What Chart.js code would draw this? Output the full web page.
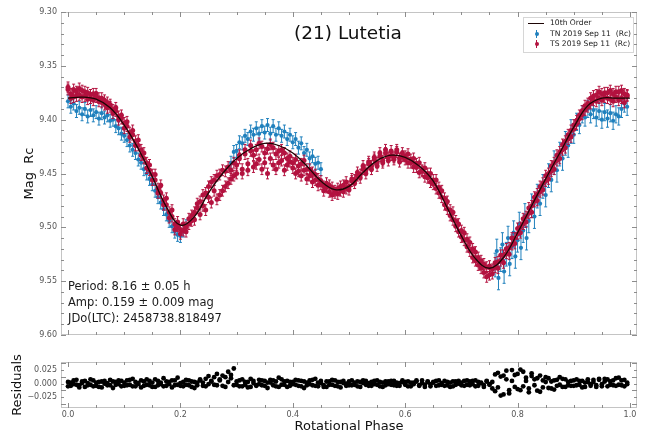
<!DOCTYPE html>
<html>
<head>
<meta charset="utf-8">
<script src="https://cdn.jsdelivr.net/npm/chart.js@4.4.1/dist/chart.umd.min.js"></script>
<style>
body{margin:0;background:#fff;font-family:"DejaVu Sans",sans-serif;}
#wrap{position:relative;width:645px;height:434px;overflow:hidden;background:#fff;}
#main{position:absolute;left:0;top:0;}
#resid{position:absolute;left:0;top:350px;}
.txt{position:absolute;white-space:nowrap;color:#1a1a1a;transform:translateY(-50%);}
#title{position:absolute;left:348px;top:32px;transform:translate(-50%,-50%);font-size:18.5px;color:#111;white-space:nowrap;}
.info{left:68px;font-size:11.5px;}
#legend{position:absolute;left:523px;top:17px;width:109px;height:34px;border:1px solid #d6d6d6;background:#fff;font-size:7.6px;color:#222;}
.row{position:absolute;left:0;width:109px;height:10px;line-height:10px;}
.row .lab{position:absolute;left:26px;top:0;white-space:nowrap;}
.ln{position:absolute;left:4px;top:5px;width:16px;height:1.3px;background:#1d0505;}
.bar{position:absolute;left:12px;top:1px;width:1px;height:8px;}
.dot{position:absolute;left:10.5px;top:3px;width:4px;height:4px;border-radius:2px;}
</style>
</head>
<body>
<div id="wrap">
<canvas id="main" width="645" height="345"></canvas>
<canvas id="resid" width="645" height="84"></canvas>
<div id="title">(21) Lutetia</div>
<div class="txt info" style="top:286px">Period: 8.16 ± 0.05 h</div>
<div class="txt info" style="top:302px">Amp: 0.159 ± 0.009 mag</div>
<div class="txt info" style="top:318px">JDo(LTC): 2458738.818497</div>
<div id="legend">
  <div class="row" style="top:0px"><div class="ln"></div><span class="lab">10th Order</span></div>
  <div class="row" style="top:10.5px"><div class="bar" style="background:#1f80bd"></div><div class="dot" style="background:#1f80bd"></div><span class="lab">TN 2019 Sep 11&nbsp; (Rc)</span></div>
  <div class="row" style="top:21px"><div class="bar" style="background:#b3123f"></div><div class="dot" style="background:#b3123f"></div><span class="lab">TS 2019 Sep 11&nbsp; (Rc)</span></div>
</div>
</div>
<script>
// 10th order fit (phase, mag)
var fitPhase = [0.000,0.025,0.050,0.075,0.100,0.125,0.150,0.175,0.200,0.225,
  0.250,0.275,0.300,0.325,0.350,0.375,0.400,0.425,0.450,0.475,
  0.500,0.525,0.550,0.575,0.600,0.625,0.650,0.675,0.700,0.725,
  0.750,0.775,0.800,0.825,0.850,0.875,0.900,0.925,0.950,0.975,1.000];
var fitMag = [9.380,9.379,9.381,9.389,9.405,9.427,9.453,9.481,9.498,9.490,
  9.468,9.450,9.436,9.427,9.422,9.424,9.431,9.443,9.457,9.465,
  9.462,9.449,9.438,9.433,9.435,9.443,9.457,9.482,9.508,9.529,
  9.538,9.528,9.505,9.480,9.455,9.431,9.407,9.387,9.380,9.380,9.380];

// phases shared by TS points and residuals
var phaseGrid = [
  0.000,0.005,0.010,0.015,0.020,0.025,0.030,0.035,0.040,0.045,0.050,0.055,0.060,0.065,0.070,0.075,0.080,0.085,0.090,0.095,
  0.100,0.105,0.110,0.115,0.120,0.125,0.130,0.135,0.140,0.145,0.150,0.155,0.160,0.165,0.170,0.175,0.180,0.185,0.190,0.195,
  0.200,0.205,0.210,0.215,0.220,0.225,0.230,0.235,0.240,0.245,0.250,0.255,0.260,0.265,0.270,0.275,0.280,0.285,0.290,0.295,
  0.300,0.305,0.310,0.315,0.320,0.325,0.330,0.335,0.340,0.345,0.350,0.355,0.360,0.365,0.370,0.375,0.380,0.385,0.390,0.395,
  0.400,0.405,0.410,0.415,0.420,0.425,0.430,0.435,0.440,0.445,0.450,0.455,0.460,0.465,0.470,0.475,0.480,0.485,0.490,0.495,
  0.500,0.505,0.510,0.515,0.520,0.525,0.530,0.535,0.540,0.545,0.550,0.555,0.560,0.565,0.570,0.575,0.580,0.585,0.590,0.595,
  0.600,0.605,0.610,0.615,0.620,0.625,0.630,0.635,0.640,0.645,0.650,0.655,0.660,0.665,0.670,0.675,0.680,0.685,0.690,0.695,
  0.700,0.705,0.710,0.715,0.720,0.725,0.730,0.735,0.740,0.745,0.750,0.755,0.760,0.765,0.770,0.775,0.780,0.785,0.790,0.795,
  0.800,0.805,0.810,0.815,0.820,0.825,0.830,0.835,0.840,0.845,0.850,0.855,0.860,0.865,0.870,0.875,0.880,0.885,0.890,0.895,
  0.900,0.905,0.910,0.915,0.920,0.925,0.930,0.935,0.940,0.945,0.950,0.955,0.960,0.965,0.970,0.975,0.980,0.985,0.990,0.995];

// TS 2019 Sep 11 (Rc), two samples per grid phase
var tsMag = [
  9.372,9.376,9.379,9.374,9.377,9.373,9.378,9.375,9.380,9.376,9.379,9.383,9.380,9.386,9.384,9.388,9.391,9.392,9.397,9.399,
  9.403,9.406,9.412,9.414,9.420,9.424,9.428,9.436,9.440,9.447,9.451,9.456,9.464,9.468,9.475,9.479,9.486,9.490,9.497,9.499,
  9.502,9.497,9.500,9.492,9.494,9.486,9.482,9.476,9.480,9.468,9.472,9.458,9.466,9.452,9.470,9.447,9.462,9.444,9.455,9.440,
  9.450,9.436,9.446,9.432,9.441,9.429,9.444,9.428,9.437,9.425,9.440,9.427,9.436,9.426,9.446,9.429,9.438,9.431,9.442,9.434,
  9.445,9.437,9.448,9.441,9.447,9.446,9.452,9.449,9.456,9.455,9.460,9.462,9.459,9.467,9.463,9.468,9.464,9.466,9.461,9.464,
  9.462,9.457,9.456,9.452,9.451,9.446,9.447,9.441,9.443,9.437,9.440,9.434,9.438,9.431,9.435,9.429,9.435,9.430,9.436,9.431,
  9.437,9.432,9.440,9.436,9.444,9.440,9.448,9.445,9.454,9.450,9.460,9.456,9.468,9.466,9.479,9.476,9.489,9.486,9.499,9.497,
  9.509,9.505,9.518,9.514,9.528,9.523,9.535,9.531,9.542,9.537,9.544,9.539,9.537,9.532,9.531,9.526,9.524,9.519,9.516,9.510,
  9.506,9.500,9.497,9.490,9.487,9.480,9.476,9.469,9.467,9.459,9.457,9.450,9.448,9.440,9.438,9.430,9.428,9.420,9.418,9.410,
  9.405,9.401,9.396,9.392,9.387,9.385,9.380,9.382,9.377,9.380,9.376,9.379,9.375,9.381,9.376,9.379,9.374,9.380,9.376,9.378];
var tsMag2 = [
  9.370,9.380,9.372,9.378,9.371,9.379,9.374,9.381,9.377,9.382,9.376,9.380,9.384,9.382,9.389,9.386,9.394,9.389,9.400,9.396,
  9.408,9.402,9.416,9.410,9.424,9.419,9.433,9.431,9.445,9.442,9.456,9.451,9.468,9.461,9.479,9.473,9.491,9.484,9.502,9.495,
  9.506,9.503,9.504,9.497,9.489,9.493,9.478,9.488,9.470,9.484,9.462,9.477,9.456,9.474,9.451,9.466,9.448,9.459,9.447,9.452,
  9.442,9.433,9.450,9.428,9.447,9.424,9.433,9.441,9.422,9.446,9.431,9.450,9.423,9.442,9.432,9.440,9.428,9.447,9.436,9.439,
  9.440,9.450,9.443,9.452,9.438,9.455,9.446,9.458,9.451,9.461,9.457,9.466,9.463,9.461,9.470,9.466,9.469,9.462,9.467,9.458,
  9.465,9.455,9.459,9.449,9.454,9.443,9.450,9.439,9.446,9.435,9.443,9.431,9.440,9.428,9.438,9.433,9.437,9.428,9.439,9.434,
  9.434,9.440,9.437,9.444,9.441,9.449,9.447,9.453,9.450,9.458,9.456,9.464,9.463,9.472,9.473,9.483,9.484,9.493,9.494,9.504,
  9.503,9.512,9.511,9.522,9.520,9.531,9.528,9.538,9.534,9.546,9.536,9.543,9.533,9.538,9.526,9.533,9.520,9.525,9.510,9.515,
  9.501,9.505,9.492,9.495,9.482,9.486,9.472,9.475,9.462,9.465,9.452,9.455,9.443,9.446,9.433,9.436,9.423,9.426,9.414,9.416,
  9.409,9.404,9.399,9.395,9.391,9.388,9.385,9.378,9.383,9.374,9.382,9.375,9.380,9.373,9.383,9.374,9.382,9.373,9.384,9.377];
var tsErr = 0.005;

// TN 2019 Sep 11 (Rc)
var tnPhase = [
  0.000,0.005,0.010,0.015,0.020,0.025,0.030,0.035,0.040,0.045,0.050,0.055,0.060,0.065,0.070,0.075,0.080,0.085,0.090,0.095,
  0.100,0.105,0.110,0.115,0.120,0.125,0.130,0.135,0.140,0.145,0.150,0.155,0.160,0.165,0.170,0.175,0.180,0.185,0.190,0.195,
  0.200,0.205,0.210,
  0.290,0.295,0.300,0.305,0.310,0.315,0.320,0.325,0.330,0.335,0.340,0.345,0.350,0.355,0.360,0.365,0.370,0.375,0.380,0.385,
  0.390,0.395,0.400,0.405,0.410,0.415,0.420,0.425,0.430,0.435,0.440,0.445,0.450,
  0.760,0.763,0.766,0.770,0.773,0.776,0.780,0.783,0.786,0.790,0.793,0.796,0.800,0.803,0.806,0.810,0.813,0.816,0.820,
  0.825,0.830,0.835,0.840,0.845,0.850,0.855,0.860,0.865,0.870,0.875,0.880,0.885,0.890,0.895,
  0.900,0.905,0.910,0.915,0.920,0.925,0.930,0.935,0.940,0.945,0.950,0.955,0.960,0.965,0.970,0.975,0.980,0.985,0.990,0.995];
var tnMag = [
  9.383,9.388,9.385,9.392,9.389,9.395,9.390,9.397,9.391,9.396,9.393,9.399,9.394,9.398,9.396,9.401,9.400,9.406,9.408,9.413,
  9.415,9.419,9.424,9.428,9.431,9.437,9.440,9.446,9.450,9.455,9.460,9.466,9.472,9.477,9.483,9.488,9.494,9.499,9.504,9.507,
  9.508,9.503,9.499,
  9.440,9.430,9.429,9.421,9.422,9.415,9.418,9.411,9.414,9.408,9.413,9.406,9.412,9.405,9.413,9.406,9.414,9.408,9.415,9.411,
  9.418,9.414,9.421,9.418,9.426,9.422,9.431,9.428,9.436,9.434,9.441,9.440,9.446,
  9.535,9.522,9.547,9.530,9.516,9.541,9.525,9.510,9.534,9.518,9.505,9.527,9.512,9.497,9.519,9.503,9.489,9.510,9.494,
  9.480,9.490,9.471,9.478,9.462,9.470,9.452,9.456,9.440,9.447,9.432,9.436,9.422,9.424,9.411,
  9.414,9.402,9.405,9.395,9.398,9.390,9.395,9.391,9.398,9.392,9.400,9.393,9.399,9.394,9.401,9.395,9.397,9.390,9.385,9.388];
var tnErr = [
  0.006,0.006,0.006,0.006,0.006,0.006,0.006,0.006,0.006,0.006,0.006,0.006,0.006,0.006,0.006,0.006,0.006,0.006,0.006,0.006,
  0.006,0.006,0.006,0.006,0.006,0.006,0.006,0.006,0.006,0.006,0.006,0.006,0.006,0.006,0.006,0.006,0.006,0.006,0.006,0.006,
  0.006,0.006,0.006,
  0.006,0.006,0.006,0.006,0.006,0.006,0.006,0.006,0.006,0.006,0.006,0.006,0.006,0.006,0.006,0.006,0.006,0.006,0.006,0.006,
  0.006,0.006,0.006,0.006,0.006,0.006,0.006,0.006,0.006,0.006,0.006,0.006,0.006,
  0.011,0.011,0.011,0.011,0.011,0.011,0.011,0.011,0.011,0.011,0.011,0.011,0.011,0.011,0.011,0.011,0.011,0.011,0.011,
  0.011,0.011,0.011,0.011,0.011,0.011,0.011,0.011,0.011,0.011,0.011,0.011,0.011,0.011,0.011,
  0.008,0.008,0.008,0.008,0.008,0.008,0.008,0.008,0.008,0.008,0.008,0.008,0.008,0.008,0.008,0.008,0.008,0.008,0.008,0.008];

// residuals in mmag, two samples per grid phase
var residA = [
  3,-4,6,-2,-7,1,5,-3,8,-5,2,-6,4,0,-3,7,-8,3,-1,5,
  -4,6,-2,9,-5,1,-7,4,8,-3,2,-6,5,-1,10,-4,3,-7,6,-2,
  1,-5,7,-3,4,-8,2,6,-4,9,-1,5,12,-3,8,15,-6,22,10,28,
  -2,6,-5,3,-7,9,1,-4,7,-3,5,-8,2,6,-5,11,-2,4,-6,3,
  -1,7,-4,5,-8,2,6,-3,9,-5,1,-6,4,-2,7,-4,3,-7,5,0,
  -3,6,-2,4,-6,1,5,-4,3,-1,6,-5,2,-3,4,-2,5,-4,1,3,
  -2,4,-5,2,6,-3,1,-6,4,-1,3,-4,6,-2,5,-3,2,-5,4,0,
  -3,5,-2,4,-1,6,-4,2,-3,5,-1,3,-14,20,-22,15,8,-18,25,-6,
  18,-12,22,5,-9,14,-3,10,-15,6,12,-8,4,-11,7,-2,9,-6,3,-4,
  6,-3,5,-7,2,8,-4,3,-6,7,-1,9,-5,4,-3,10,-2,6,-5,2];
var residB = [
  -5,2,-1,7,-3,4,-6,1,-2,6,-4,3,-7,5,1,-3,4,-2,6,-5,
  2,-3,7,-5,3,-1,6,-4,-2,5,-6,8,-3,2,-5,4,-1,6,-3,11,
  -4,3,-2,6,-6,3,-3,8,2,-5,14,4,-2,18,6,-4,12,3,16,-3,
  4,-5,8,-2,3,-6,5,-3,-1,6,-4,2,7,-3,4,-6,8,-2,5,-4,
  3,-2,6,-5,4,-3,-1,7,-4,2,5,-3,-6,4,-2,6,-5,3,1,-4,
  4,-3,2,-5,3,6,-2,1,-4,5,-2,3,-6,4,-1,5,-3,2,-4,6,
  3,-5,2,-1,4,-4,6,-2,3,-5,2,5,-3,1,-4,3,-6,4,-2,5,
  2,-4,6,-3,5,-5,3,1,-6,4,-2,-9,17,-7,13,-20,24,-12,5,16,
  -10,26,-5,11,-16,19,8,-13,15,-7,3,10,-9,6,-4,12,-6,8,-3,5,
  -4,8,-2,5,-6,3,-1,7,-3,9,-5,4,8,-2,6,-4,11,-3,7,-1];

var xTicks = [0, 0.2, 0.4, 0.6, 0.8, 1.0];
var residTicks = [-0.025, 0, 0.025];

Chart.defaults.font.family = '"DejaVu Sans", sans-serif';
Chart.defaults.animation = false;

var blue = '#1f80bd';
var red = '#b3123f';

// error bars drawn under each dataset's markers
var errorBars = {
  id: 'errorBars',
  beforeDatasetDraw: function(chart, args) {
    var ds = chart.data.datasets[args.index];
    if (!ds.errors) return;
    var y = chart.scales.y, ctx = chart.ctx;
    ctx.save();
    ctx.strokeStyle = ds.borderColor;
    ctx.lineWidth = 1;
    ctx.beginPath();
    args.meta.data.forEach(function(pt, i) {
      var d = ds.data[i];
      var e = Array.isArray(ds.errors) ? ds.errors[i] : ds.errors;
      var y1 = y.getPixelForValue(d.y - e), y2 = y.getPixelForValue(d.y + e);
      ctx.moveTo(pt.x, y1); ctx.lineTo(pt.x, y2);
      ctx.moveTo(pt.x - 1.5, y1); ctx.lineTo(pt.x + 1.5, y1);
      ctx.moveTo(pt.x - 1.5, y2); ctx.lineTo(pt.x + 1.5, y2);
    });
    ctx.stroke();
    ctx.restore();
  }
};

// grey frame and inward ticks on all four sides, like matplotlib
var frameTicks = {
  id: 'frameTicks',
  afterDraw: function(chart, args, opts) {
    var ctx = chart.ctx, a = chart.chartArea;
    var xs = chart.scales.x, ys = chart.scales.y;
    ctx.save();
    ctx.strokeStyle = '#c4c4c4';
    ctx.lineWidth = 1;
    ctx.strokeRect(a.left + 0.5, a.top + 0.5, a.right - a.left - 1, a.bottom - a.top - 1);
    ctx.strokeStyle = '#8c8c8c';
    function seg(x1, y1, x2, y2) { ctx.beginPath(); ctx.moveTo(x1, y1); ctx.lineTo(x2, y2); ctx.stroke(); }
    for (var i = 0; i <= 20; i++) {
      var v = i * 0.05;
      var px = Math.round(xs.getPixelForValue(v)) + 0.5;
      var len = (i % 4 === 0) ? 5 : 3;
      seg(px, a.top, px, a.top + len);
      seg(px, a.bottom, px, a.bottom - len);
    }
    var n = Math.round((opts.yTo - opts.yFrom) / opts.yStep);
    for (var j = 0; j <= n; j++) {
      var val = opts.yFrom + j * opts.yStep;
      var py = Math.round(ys.getPixelForValue(val)) + 0.5;
      var major = (j % opts.yEvery === 0);
      var l = major ? 5 : 3;
      seg(a.left, py, a.left + l, py);
      seg(a.right, py, a.right - l, py);
    }
    ctx.restore();
  }
};

var tickFont = { size: 8 };
var tickColor = '#555';

function tsSet(mags, label) {
  return {
    label: label,
    data: phaseGrid.map(function(p, i) { return { x: p, y: mags[i] }; }),
    errors: tsErr,
    borderColor: red,
    backgroundColor: red,
    pointRadius: 2.5,
    pointBorderWidth: 0
  };
}

new Chart(document.getElementById('main'), {
  type: 'scatter',
  data: {
    datasets: [
      {
        label: '10th Order',
        data: fitPhase.map(function(p, i) { return { x: p, y: fitMag[i] }; }),
        showLine: true,
        borderColor: '#1d0505',
        borderWidth: 1.3,
        pointRadius: 0,
        tension: 0.4
      },
      tsSet(tsMag, 'TS 2019 Sep 11  (Rc)'),
      tsSet(tsMag2, 'TS 2019 Sep 11  (Rc) b'),
      {
        label: 'TN 2019 Sep 11  (Rc)',
        data: tnPhase.map(function(p, i) { return { x: p, y: tnMag[i] }; }),
        errors: tnErr,
        borderColor: blue,
        backgroundColor: blue,
        pointRadius: 2.1,
        pointBorderWidth: 0
      }
    ]
  },
  options: {
    responsive: false,
    layout: { padding: { left: 22, right: 8, top: 12, bottom: 0 } },
    plugins: {
      legend: { display: false },
      tooltip: { enabled: false },
      frameTicks: { yFrom: 9.30, yTo: 9.60, yStep: 0.01, yEvery: 5 }
    },
    scales: {
      x: {
        type: 'linear', min: -0.0125, max: 1.0125,
        grid: { display: false }, border: { display: false },
        ticks: { display: false },
        afterBuildTicks: function(s) { s.ticks = xTicks.map(function(v) { return { value: v }; }); },
        afterFit: function(s) { s.height = 10; }
      },
      y: {
        reverse: true, min: 9.30, max: 9.60,
        grid: { display: false, drawTicks: false }, border: { display: false },
        ticks: {
          stepSize: 0.05, autoSkip: false, padding: 4, color: tickColor, font: tickFont,
          callback: function(v) { return v.toFixed(2); }
        },
        title: { display: true, text: 'Mag  Rc', color: '#111', font: { size: 13 }, padding: { top: 0, bottom: 0 } },
        afterFit: function(s) { s.width = 39; }
      }
    }
  },
  plugins: [errorBars, frameTicks]
});

function residSet(vals) {
  return {
    label: 'Residuals',
    data: phaseGrid.map(function(p, i) { return { x: p, y: vals[i] / 1000 }; }),
    backgroundColor: '#000', borderColor: '#000', pointRadius: 2.4, pointBorderWidth: 0
  };
}

new Chart(document.getElementById('resid'), {
  type: 'scatter',
  data: { datasets: [residSet(residA), residSet(residB)] },
  options: {
    responsive: false,
    layout: { padding: { left: 10, right: 8, top: 12, bottom: 0 } },
    plugins: {
      legend: { display: false },
      tooltip: { enabled: false },
      frameTicks: { yFrom: -0.0375, yTo: 0.0375, yStep: 0.0125, yEvery: 2 }
    },
    scales: {
      x: {
        type: 'linear', min: -0.0125, max: 1.0125,
        grid: { display: false, drawTicks: false }, border: { display: false },
        ticks: {
          autoSkip: false, maxRotation: 0, padding: 2, color: tickColor, font: tickFont,
          callback: function(v) { return v.toFixed(1); }
        },
        afterBuildTicks: function(s) { s.ticks = xTicks.map(function(v) { return { value: v }; }); },
        title: { display: true, text: 'Rotational Phase', color: '#111', font: { size: 13 }, padding: { top: 0, bottom: 0 } },
        afterFit: function(s) { s.height = 26; }
      },
      y: {
        min: -0.045, max: 0.04,
        grid: { display: false, drawTicks: false }, border: { display: false },
        ticks: {
          autoSkip: false, padding: 4, color: tickColor, font: tickFont,
          callback: function(v) { return (v < 0 ? '\u2212' : '') + Math.abs(v).toFixed(3); }
        },
        afterBuildTicks: function(s) { s.ticks = residTicks.map(function(v) { return { value: v }; }); },
        title: { display: true, text: 'Residuals', color: '#111', font: { size: 13 }, padding: { top: 0, bottom: 0 } },
        afterFit: function(s) { s.width = 51; }
      }
    }
  },
  plugins: [frameTicks]
});
</script>
</body>
</html>
